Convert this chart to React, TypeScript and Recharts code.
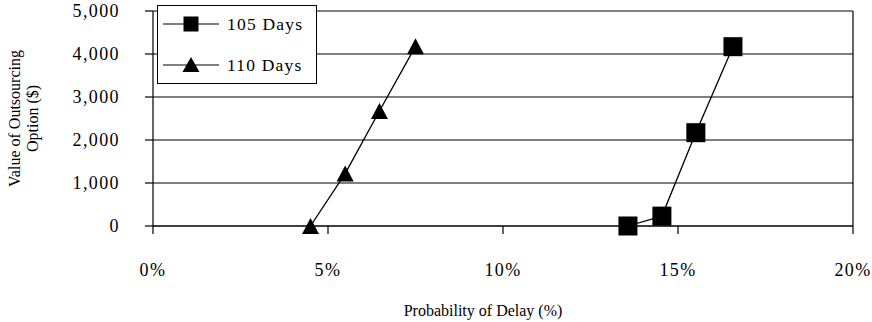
import React from 'react';
import { ScatterChart, Scatter, XAxis, YAxis, CartesianGrid, Legend, ReferenceLine } from 'recharts';

const FONT = '"Liberation Serif", "Times New Roman", serif';

const xTicks = [0, 5, 10, 15, 20];
const yTicks = [0, 1000, 2000, 3000, 4000, 5000];

const days105X = [13.57, 14.54, 15.51, 16.57];
const days105Y = [0, 230, 2170, 4170];
const days110X = [4.5, 5.49, 6.47, 7.5];
const days110Y = [0, 1220, 2675, 4178];

const series105 = days105X.map((x, i) => ({ x, y: days105Y[i] }));
const series110 = days110X.map((x, i) => ({ x, y: days110Y[i] }));

const SquareShape = (props: any) => {
  const { cx, cy } = props;
  const s = 19;
  return <rect x={cx - s / 2} y={cy - s / 2} width={s} height={s} fill="#000" />;
};

const TriangleShape = (props: any) => {
  const { cx, cy } = props;
  const w = 17;
  const h = 16;
  return (
    <polygon
      points={`${cx},${cy - h / 2} ${cx - w / 2},${cy + h / 2} ${cx + w / 2},${cy + h / 2}`}
      fill="#000"
    />
  );
};

const LegendContent = (props: any) => {
  const payload = props.payload || [];
  const names = ['105 Days', '110 Days'];
  return (
    <div
      style={{
        width: 160,
        height: 79,
        border: '1.5px solid #000',
        background: '#fff',
        boxSizing: 'border-box',
      }}
    >
      <svg width={157} height={76} style={{ display: 'block' }}>
        {names.map((n, i) => {
          const cy = 18 + i * 41;
          const label = payload[i] ? payload[i].value : n;
          return (
            <g key={n}>
              <line x1={5} x2={61} y1={cy} y2={cy} stroke="#000" strokeWidth={1.2} />
              {i === 0 ? (
                <rect x={33 - 7.5} y={cy - 7.5} width={15} height={15} fill="#000" />
              ) : (
                <polygon points={`33,${cy - 8} ${33 - 8.5},${cy + 7} ${33 + 8.5},${cy + 7}`} fill="#000" />
              )}
              <text
                x={69}
                y={cy}
                dy="0.35em"
                fontFamily={FONT}
                fontSize={17.5}
                letterSpacing={1.2}
                fill="#000"
              >
                {label}
              </text>
            </g>
          );
        })}
      </svg>
    </div>
  );
};

const YTitle = (props: any) => {
  const vb = props.viewBox || { x: 0, y: 0, width: 0, height: 0 };
  const cy = vb.y + vb.height / 2;
  const x1 = 14;
  const x2 = 32;
  return (
    <g fontFamily={FONT} fontSize={16} fill="#000">
      <text x={x1} y={cy} textAnchor="middle" dominantBaseline="central" transform={`rotate(-90, ${x1}, ${cy})`}>
        Value of Outsourcing
      </text>
      <text x={x2} y={cy} textAnchor="middle" dominantBaseline="central" transform={`rotate(-90, ${x2}, ${cy})`}>
        Option ($)
      </text>
    </g>
  );
};

const XTitle = (props: any) => {
  const vb = props.viewBox || { x: 0, y: 0, width: 0, height: 0 };
  const cx = vb.x + vb.width / 2 - 20;
  return (
    <text x={cx} y={vb.y + vb.height - 6} textAnchor="middle" fontFamily={FONT} fontSize={16} fill="#000">
      Probability of Delay (%)
    </text>
  );
};

export default function App() {
  return (
    <div style={{ width: 872, height: 322 }}>
      <style>{`html, body { margin: 0; padding: 0; overflow: hidden; } #root { width: 872px; height: 322px; } .recharts-surface { overflow: visible; }`}</style>
      <ScatterChart
        width={872}
        height={322}
        margin={{ top: 11, right: 19, bottom: 0, left: 0 }}
        style={{ fontFamily: FONT }}
      >
        <CartesianGrid horizontal={true} vertical={false} stroke="#000" strokeWidth={1.2} />
        <XAxis
          type="number"
          dataKey="x"
          domain={[0, 20]}
          ticks={xTicks}
          tickFormatter={(v: number) => `${v}%`}
          height={96}
          tickSize={8}
          tickMargin={29}
          stroke="#000"
          axisLine={{ stroke: '#000', strokeWidth: 1.2 }}
          tickLine={{ stroke: '#000', strokeWidth: 1.2 }}
          tick={{ fill: '#000', fontSize: 18, fontFamily: FONT, letterSpacing: 1.4 }}
          label={<XTitle />}
          allowDataOverflow
        />
        <YAxis
          type="number"
          dataKey="y"
          domain={[0, 5000]}
          ticks={yTicks}
          tickFormatter={(v: number) => v.toLocaleString('en-US')}
          width={153}
          tickSize={8}
          tickMargin={25}
          stroke="#000"
          axisLine={{ stroke: '#000', strokeWidth: 1.2 }}
          tickLine={{ stroke: '#000', strokeWidth: 1.2 }}
          tick={{ fill: '#000', fontSize: 18, fontFamily: FONT, letterSpacing: 1.4 }}
          label={<YTitle />}
        />
        <ReferenceLine x={20} stroke="#000" strokeWidth={1.2} />
        <Legend
          layout="vertical"
          align="center"
          verticalAlign="middle"
          content={<LegendContent />}
          wrapperStyle={{ left: 157, top: 5, width: 160, height: 79 }}
        />
        <Scatter
          name="105 Days"
          data={series105}
          fill="#000"
          line={{ stroke: '#000', strokeWidth: 1.3 }}
          shape={<SquareShape />}
          isAnimationActive={false}
        />
        <Scatter
          name="110 Days"
          data={series110}
          fill="#000"
          line={{ stroke: '#000', strokeWidth: 1.3 }}
          shape={<TriangleShape />}
          isAnimationActive={false}
        />
      </ScatterChart>
    </div>
  );
}
